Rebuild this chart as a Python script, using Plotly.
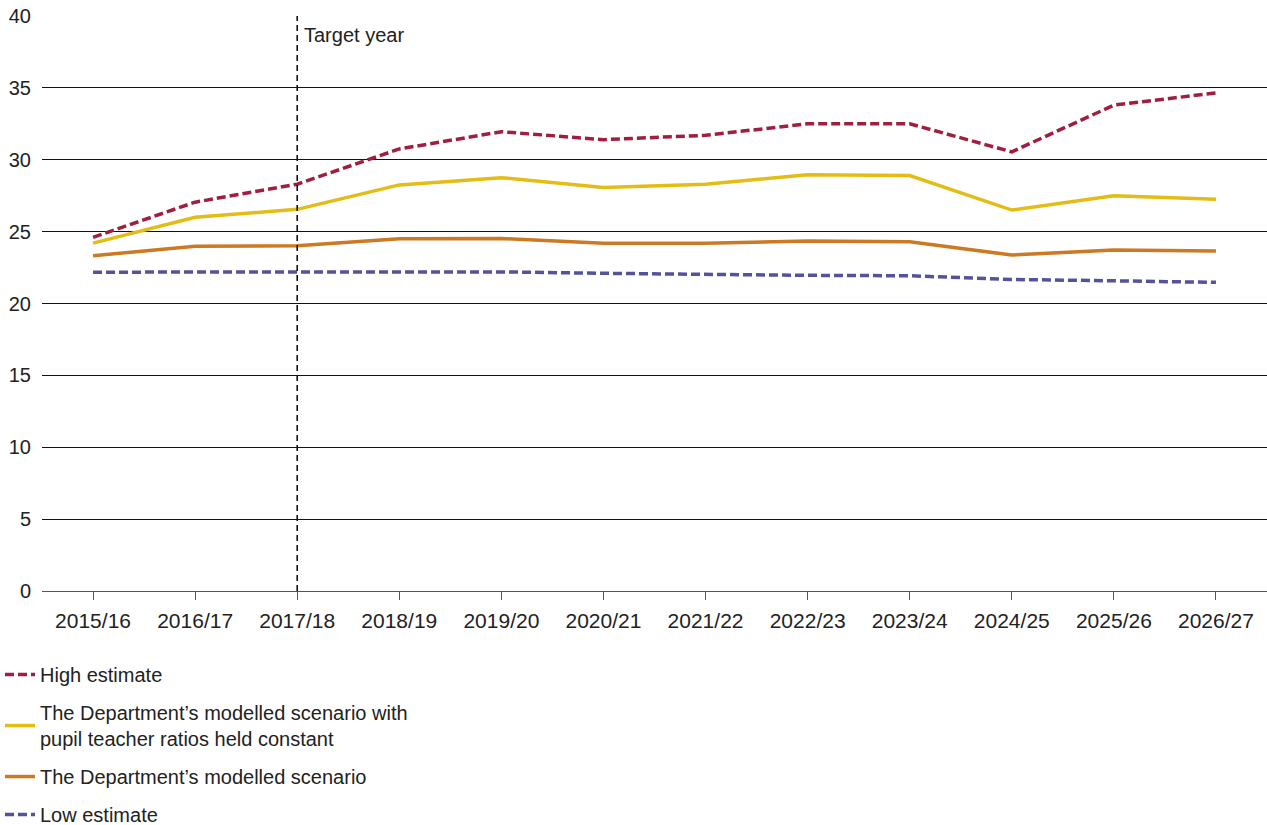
import plotly.graph_objects as go

years = ["2015/16", "2016/17", "2017/18", "2018/19", "2019/20", "2020/21",
         "2021/22", "2022/23", "2023/24", "2024/25", "2025/26", "2026/27"]

high_estimate = [24.6, 27.05, 28.3, 30.75, 31.95, 31.4, 31.7, 32.5, 32.5, 30.55, 33.8, 34.65]
constant_ptr = [24.2, 26.0, 26.55, 28.25, 28.75, 28.07, 28.3, 28.95, 28.9, 26.5, 27.5, 27.25]
modelled = [23.32, 23.99, 24.02, 24.5, 24.52, 24.2, 24.2, 24.34, 24.3, 23.37, 23.72, 23.65]
low_estimate = [22.18, 22.2, 22.18, 22.21, 22.2, 22.1, 22.02, 21.96, 21.93, 21.67, 21.58, 21.47]

target_year = "2017/18"
y_ticks = [0, 5, 10, 15, 20, 25, 30, 35, 40]

FONT = "Liberation Sans, Arial, sans-serif"
TXT = "#222222"
FS = 20

series = [
    ("High estimate", high_estimate, "#A01E40", "9px,4px"),
    ("The Department\u2019s modelled scenario with<br>pupil teacher ratios held constant", constant_ptr, "#E3BD14", "solid"),
    ("The Department\u2019s modelled scenario", modelled, "#CB7922", "solid"),
    ("Low estimate", low_estimate, "#55529C", "9px,4px"),
]

fig = go.Figure()
for i, (name, vals, color, dash) in enumerate(series):
    fig.add_trace(go.Scatter(
        x=years, y=vals, name=name, mode="lines",
        line=dict(color=color, width=3.5, dash=dash),
        legendgroup=f"g{i}",
    ))

fig.add_shape(type="line", xref="x", yref="y", x0=target_year, x1=target_year,
              y0=0, y1=40, line=dict(color="#111111", width=1.6, dash="6px,4px"))
fig.add_annotation(x=target_year, y=40, xref="x", yref="y", text="Target year",
                   showarrow=False, xanchor="left", yanchor="top", xshift=5, yshift=-6,
                   font=dict(family=FONT, size=FS, color=TXT))

fig.update_layout(
    width=1267, height=825,
    margin=dict(l=42, r=0, t=16, b=234, autoexpand=False),
    paper_bgcolor="white", plot_bgcolor="white",
    font=dict(family=FONT, size=FS, color=TXT),
    showlegend=True,
    legend=dict(
        xref="container", yref="container", x=0.0, y=0.206,
        xanchor="left", yanchor="top",
        font=dict(family=FONT, size=FS, color=TXT),
        tracegroupgap=9, bgcolor="rgba(0,0,0,0)",
        traceorder="grouped",
    ),
    xaxis=dict(
        type="category", range=[-0.5, 11.5],
        showgrid=False, zeroline=False, automargin=False,
        showline=True, linecolor="#555555", linewidth=1,
        ticks="outside", ticklen=8, tickcolor="#555555", tickwidth=1,
        tickangle=0, ticklabelstandoff=3,
        tickfont=dict(family=FONT, size=21, color=TXT),
    ),
    yaxis=dict(
        range=[0, 40], tickvals=y_ticks, automargin=False,
        showgrid=True, gridcolor="#111111", gridwidth=1,
        zeroline=False, showline=False, ticks="",
        ticklabelstandoff=10,
        tickfont=dict(family=FONT, size=FS, color=TXT),
    ),
)

fig.write_html("out.html", config={"displayModeBar": False},
               post_script="document.body.style.margin='0px';")
